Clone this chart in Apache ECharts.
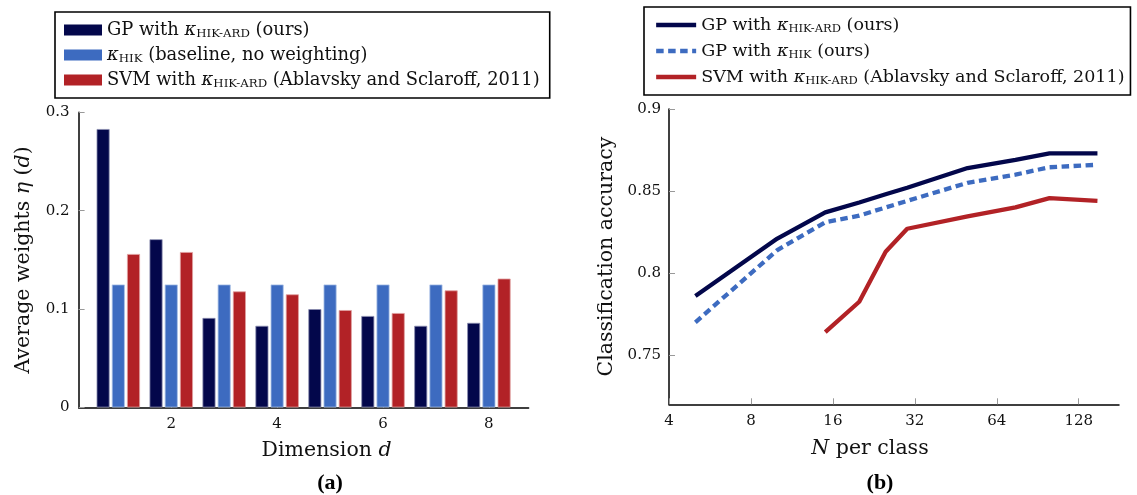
<!DOCTYPE html>
<html>
<head>
<meta charset="utf-8">
<script src="https://cdn.jsdelivr.net/npm/echarts@6/dist/echarts.min.js"></script>
<style>
  html, body { margin: 0; padding: 0; background: #fff; }
  #chart { width: 1137px; height: 495px; }
</style>
</head>
<body>
<div id="chart"></div>
<script>
// ---- (a) average ARD weights per input dimension ----
const dims = [1, 2, 3, 4, 5, 6, 7, 8];
const gpArdWeights  = [0.283, 0.171, 0.091, 0.083, 0.100, 0.093, 0.083, 0.086];
const hikWeights    = [0.125, 0.125, 0.125, 0.125, 0.125, 0.125, 0.125, 0.125];
const svmArdWeights = [0.156, 0.158, 0.118, 0.115, 0.099, 0.096, 0.119, 0.131];
const dimTicks = [2, 4, 6, 8];
const weightTicks = [0, 0.1, 0.2, 0.3];

// ---- (b) accuracy versus training examples per class ----
const nPerClass = [5, 10, 15, 20, 25, 30, 50, 75, 100, 150];
const accGpArd  = [0.786, 0.821, 0.837, 0.843, 0.848, 0.852, 0.864, 0.869, 0.873, 0.873];
const accGpHik  = [0.770, 0.814, 0.831, 0.835, 0.840, 0.844, 0.855, 0.860, 0.8645, 0.866];
const nPerClassSvm = [15, 20, 25, 30, 50, 75, 100, 150];
const accSvmArd = [0.764, 0.7825, 0.813, 0.827, 0.8345, 0.840, 0.8457, 0.844];
const nTicks = [4, 8, 16, 32, 64, 128];
const accTicks = [0.75, 0.8, 0.85, 0.9];

const NAVY = '#03074b';
const BLUE = '#3d6bc0';
const RED = '#b22226';
const FONT = 'DejaVu Serif';
const INK = '#111';

const legendLabels = {
  gpArdBar:  'GP with {k|κ}{s|HIK-ARD} (ours)',
  hikBar:    '{k|κ}{s|HIK} (baseline, no weighting)',
  svmArdBar: 'SVM with {k|κ}{s|HIK-ARD} (Ablavsky and Sclaroff, 2011)',
  gpArdLine: 'GP with {k|κ}{s|HIK-ARD} (ours)',
  gpHikLine: 'GP with {k|κ}{s|HIK} (ours)',
  svmArdLine:'SVM with {k|κ}{s|HIK-ARD} (Ablavsky and Sclaroff, 2011)'
};

function richFor(size) {
  return {
    k: { fontFamily: FONT, fontStyle: 'italic', fontSize: size, color: INK, lineHeight: 20 },
    s: { fontFamily: FONT, fontSize: size * 0.66, color: INK, lineHeight: 11, verticalAlign: 'bottom' },
    i: { fontFamily: FONT, fontStyle: 'italic', fontSize: 20.5, color: INK }
  };
}

function legendBox(left, top, names, icon, iconW, iconH, gap, pad, size, itemStyle, lineStyle) {
  return {
    orient: 'vertical',
    left: left, top: top,
    data: names,
    icon: icon,
    itemWidth: iconW, itemHeight: iconH,
    itemGap: gap,
    padding: pad,
    borderColor: '#000', borderWidth: 1.6,
    backgroundColor: '#fff',
    selectedMode: false,
    itemStyle: itemStyle,
    lineStyle: lineStyle,
    formatter: n => legendLabels[n],
    textStyle: { fontFamily: FONT, fontSize: size, color: INK, lineHeight: 20, rich: richFor(size) }
  };
}

const axisBase = {
  axisLine: { show: true, lineStyle: { color: '#000', width: 1.5 } },
  axisTick: { show: true, inside: true, length: 6, lineStyle: { color: '#999', width: 1 } },
  splitLine: { show: false },
  axisLabel: { fontFamily: FONT, fontSize: 15, color: INK },
  nameTextStyle: { fontFamily: FONT, fontSize: 20.5, color: INK, rich: richFor(20.5) }
};

function pairs(xs, ys) { return xs.map((x, i) => [x, ys[i]]); }

const option = {
  animation: false,
  backgroundColor: '#fff',
  title: [
    { text: '(a)', left: 325, top: 467, textAlign: 'center',
      textStyle: { fontFamily: 'Liberation Serif', fontWeight: 'bold', fontSize: 22, color: '#000' } },
    { text: '(b)', left: 875, top: 467, textAlign: 'center',
      textStyle: { fontFamily: 'Liberation Serif', fontWeight: 'bold', fontSize: 22, color: '#000' } }
  ],
  legend: [
    legendBox(55, 12, ['gpArdBar', 'hikBar', 'svmArdBar'], 'rect', 38, 11, 5, [8, 10, 8, 9], 17.9,
      { borderWidth: 0 }, undefined),
    legendBox(644, 7, ['gpArdLine', 'gpHikLine', 'svmArdLine'], undefined, 40, 8, 6, [8, 6, 8, 10], 17.5,
      { opacity: 0 }, { width: 4.3 })
  ],
  grid: [
    { left: 78.6, right: 608.4, top: 112.3, bottom: 87.5 },
    { left: 669, right: 18, top: 109, bottom: 90.7 }
  ],
  xAxis: [
    Object.assign({}, axisBase, {
      gridIndex: 0, type: 'value', min: 0.25, max: 8.75,
      name: 'Dimension {i|d}', nameLocation: 'middle', nameGap: 33,
      nameTextStyle: Object.assign({}, axisBase.nameTextStyle, { padding: [0, 0, 0, 46] }),
      axisTick: Object.assign({}, axisBase.axisTick, { customValues: dimTicks }),
      axisLabel: Object.assign({}, axisBase.axisLabel, { customValues: dimTicks, margin: 9 })
    }),
    Object.assign({}, axisBase, {
      gridIndex: 1, type: 'log', logBase: 2, min: 4, max: 180,
      name: '{i|N} per class', nameLocation: 'middle', nameGap: 34,
      nameTextStyle: Object.assign({}, axisBase.nameTextStyle, { padding: [0, 48, 0, 0] }),
      axisTick: Object.assign({}, axisBase.axisTick, { customValues: nTicks }),
      axisLabel: Object.assign({}, axisBase.axisLabel, { customValues: nTicks, margin: 9,
        formatter: v => String(Math.round(v)) })
    })
  ],
  yAxis: [
    Object.assign({}, axisBase, {
      gridIndex: 0, type: 'value', min: 0, max: 0.3, interval: 0.1,
      name: 'Average weights {i|η} ({i|d})', nameLocation: 'middle', nameGap: 44,
      axisTick: Object.assign({}, axisBase.axisTick, { customValues: weightTicks }),
      axisLabel: Object.assign({}, axisBase.axisLabel, { customValues: weightTicks, margin: 9 })
    }),
    Object.assign({}, axisBase, {
      gridIndex: 1, type: 'value', min: 0.72, max: 0.9,
      name: 'Classification accuracy', nameLocation: 'middle', nameGap: 52,
      axisTick: Object.assign({}, axisBase.axisTick, { customValues: accTicks }),
      axisLabel: Object.assign({}, axisBase.axisLabel, { customValues: accTicks, margin: 8 })
    })
  ],
  series: [
    { name: 'gpArdBar', type: 'bar', xAxisIndex: 0, yAxisIndex: 0, barWidth: 13, barGap: '17%',
      itemStyle: { color: NAVY, borderColor: '#8a8db0', borderWidth: 0.8 },
      data: pairs(dims, gpArdWeights) },
    { name: 'hikBar', type: 'bar', xAxisIndex: 0, yAxisIndex: 0, barWidth: 13, barGap: '17%',
      itemStyle: { color: BLUE, borderColor: '#aac0e6', borderWidth: 0.8 },
      data: pairs(dims, hikWeights) },
    { name: 'svmArdBar', type: 'bar', xAxisIndex: 0, yAxisIndex: 0, barWidth: 13, barGap: '17%',
      itemStyle: { color: RED, borderColor: '#e0a0a0', borderWidth: 0.8 },
      data: pairs(dims, svmArdWeights) },
    { name: 'gpArdLine', type: 'line', xAxisIndex: 1, yAxisIndex: 1, showSymbol: false, symbol: 'none',
      lineStyle: { color: NAVY, width: 4.3 }, itemStyle: { color: NAVY },
      data: pairs(nPerClass, accGpArd) },
    { name: 'gpHikLine', type: 'line', xAxisIndex: 1, yAxisIndex: 1, showSymbol: false, symbol: 'none',
      lineStyle: { color: BLUE, width: 4.3, type: [7.5, 4.5] }, itemStyle: { color: BLUE },
      data: pairs(nPerClass, accGpHik) },
    { name: 'svmArdLine', type: 'line', xAxisIndex: 1, yAxisIndex: 1, showSymbol: false, symbol: 'none',
      lineStyle: { color: RED, width: 4.3 }, itemStyle: { color: RED },
      data: pairs(nPerClassSvm, accSvmArd) }
  ]
};

const chart = echarts.init(document.getElementById('chart'), null, { renderer: 'canvas' });
chart.setOption(option);
</script>
</body>
</html>
